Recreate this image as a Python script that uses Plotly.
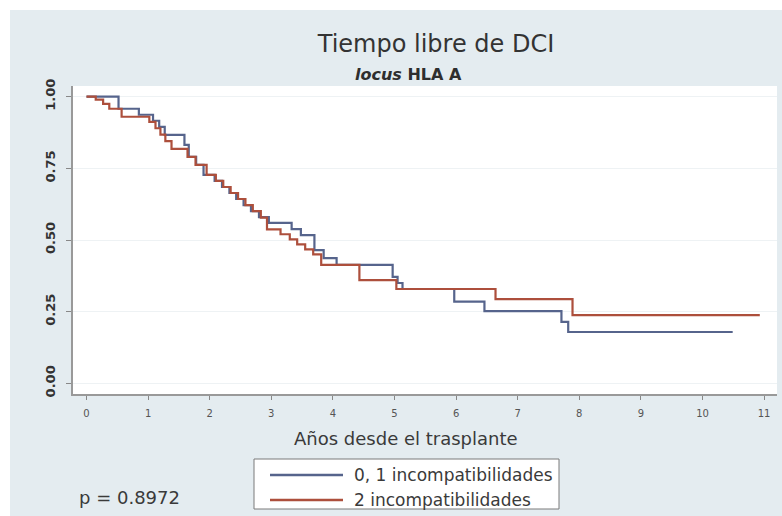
import plotly.graph_objects as go

# Kaplan-Meier step estimates (years since transplant, survival free of DCI)
group_names = ["0, 1 incompatibilidades", "2 incompatibilidades"]
group_colors = ["#56648c", "#ad4f3c"]

times_01 = [0, 0.52, 0.85, 1.08, 1.18, 1.27, 1.59, 1.66, 1.78, 1.90, 2.08, 2.20,
            2.32, 2.43, 2.55, 2.67, 2.80, 2.96, 3.33, 3.48, 3.70, 3.85, 4.06,
            4.97, 5.05, 5.13, 5.97, 6.46, 7.71, 7.82, 10.49]
surv_01 = [1.0, 0.958, 0.937, 0.916, 0.895, 0.867, 0.832, 0.790, 0.762, 0.727,
           0.706, 0.685, 0.664, 0.643, 0.622, 0.601, 0.580, 0.560, 0.538, 0.517,
           0.465, 0.437, 0.413, 0.371, 0.350, 0.329, 0.285, 0.252, 0.214, 0.179,
           0.179]

times_2 = [0, 0.15, 0.27, 0.37, 0.57, 1.02, 1.12, 1.20, 1.28, 1.38, 1.64, 1.77,
           1.95, 2.10, 2.22, 2.34, 2.46, 2.58, 2.70, 2.83, 2.93, 3.15, 3.30, 3.42,
           3.55, 3.68, 3.81, 4.43, 5.03, 6.64, 7.89, 10.93]
surv_2 = [1.0, 0.990, 0.975, 0.958, 0.930, 0.912, 0.890, 0.868, 0.845, 0.818,
          0.790, 0.762, 0.727, 0.706, 0.685, 0.664, 0.643, 0.622, 0.601, 0.578,
          0.537, 0.520, 0.502, 0.485, 0.467, 0.450, 0.413, 0.360, 0.329, 0.294,
          0.238, 0.238]

x_ticks = list(range(0, 12))
y_ticks = [0.0, 0.25, 0.5, 0.75, 1.0]
y_ticktext = ["0.00", "0.25", "0.50", "0.75", "1.00"]

title_text = "Tiempo libre de DCI"
subtitle_text = "<b><i>locus</i> HLA A</b>"
x_title = "Años desde el trasplante"
p_text = "p = 0.8972"

W, H = 782, 516
ML, MR, MT, MB = 73, 5, 86, 122
PW, PH = W - ML - MR, H - MT - MB


def px(x):
    return (x - ML) / PW


def py(y):
    return (H - MB - y) / PH


FONT = "DejaVu Sans"
TEXT = "#3a3a3a"

fig = go.Figure()
series = [(times_01, surv_01), (times_2, surv_2)]
for (t, s), name, col in zip(series, group_names, group_colors):
    fig.add_trace(go.Scatter(
        x=t, y=s, mode="lines", name=name, showlegend=False,
        line=dict(color=col, width=2.2, shape="hv"),
    ))

shapes = [
    # white page border on the top and left
    dict(type="rect", xref="paper", yref="paper", x0=px(0), x1=px(10),
         y0=py(H), y1=py(0), fillcolor="white", line_width=0, layer="below"),
    dict(type="rect", xref="paper", yref="paper", x0=px(0), x1=px(W),
         y0=py(10), y1=py(0), fillcolor="white", line_width=0, layer="below"),
    # legend box
    dict(type="rect", xref="paper", yref="paper", x0=px(254), x1=px(559),
         y0=py(509), y1=py(459), fillcolor="white",
         line=dict(color="#7a7a7a", width=1)),
]
annotations = [
    dict(text=subtitle_text, xref="paper", yref="paper", x=px(408), y=py(74),
         xanchor="center", yanchor="middle", showarrow=False,
         font=dict(family=FONT, size=16, color="#2e2e2e")),
    dict(text=x_title, xref="paper", yref="paper", x=px(406), y=py(438),
         xanchor="center", yanchor="middle", showarrow=False,
         font=dict(family=FONT, size=18, color=TEXT)),
    dict(text=p_text, xref="paper", yref="paper", x=px(77), y=py(498),
         xanchor="left", yanchor="middle", showarrow=False,
         font=dict(family=FONT, size=18, color=TEXT)),
]
legend_rows = [475, 500]
for name, col, yr in zip(group_names, group_colors, legend_rows):
    shapes.append(dict(type="line", xref="paper", yref="paper",
                       x0=px(270), x1=px(343), y0=py(yr), y1=py(yr),
                       line=dict(color=col, width=2.6)))
    annotations.append(dict(text=name, xref="paper", yref="paper", x=px(352),
                            y=py(yr), xanchor="left", yanchor="middle",
                            showarrow=False,
                            font=dict(family=FONT, size=17, color=TEXT)))

fig.update_layout(
    width=W, height=H,
    margin=dict(l=ML, r=MR, t=MT, b=MB, pad=0),
    paper_bgcolor="#e4ecf0",
    plot_bgcolor="white",
    title=dict(text=title_text, x=436 / W, y=1 - 44 / H, xref="container",
               yref="container", xanchor="center", yanchor="middle",
               font=dict(family=FONT, size=24, color="#333333")),
    shapes=shapes,
    annotations=annotations,
    xaxis=dict(range=[(ML - 86.5) / 61.6, (W - MR - 86.5) / 61.6],
               tickvals=x_ticks, ticks="outside", ticklen=4, tickcolor="#888",
               tickfont=dict(family=FONT, size=10, color="#555"),
               ticklabelstandoff=5,
               showline=True, linecolor="#999", linewidth=1.5,
               showgrid=False, zeroline=False),
    yaxis=dict(range=[-(394 - 383.3) / 286.6, 1 + (96.7 - 86) / 286.6],
               tickvals=y_ticks, ticktext=y_ticktext, tickangle=-90,
               ticks="outside", ticklen=5, tickcolor="#888",
               tickfont=dict(family=FONT, size=13, color="#333",
                             weight="bold"),
               ticklabelstandoff=6,
               showline=True, linecolor="#999", linewidth=1.5,
               showgrid=True, gridcolor="#eef2f4", gridwidth=1,
               zeroline=False),
)

fig.write_html("out.html")
